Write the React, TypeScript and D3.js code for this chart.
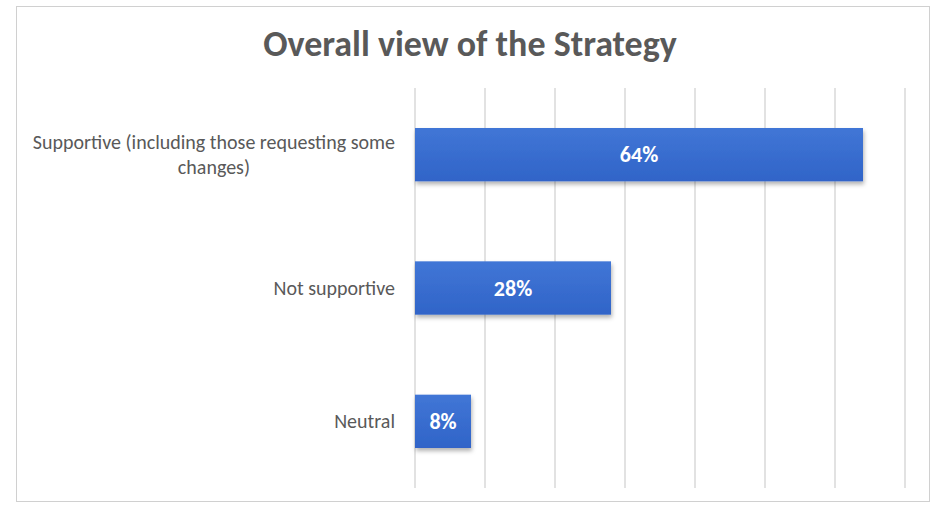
import { useEffect, useRef } from 'react';
import * as d3 from 'd3';

const categories = ['Supportive (including those requesting some changes)', 'Not supportive', 'Neutral'];
const labelLines = [['Supportive (including those requesting some', 'changes)'], ['Not supportive'], ['Neutral']];
const values = [0.64, 0.28, 0.08];
const gridTicks = [0, 0.1, 0.2, 0.3, 0.4, 0.5, 0.6, 0.7];

const W = 932;
const H = 505;

export default function App() {
  const svgRef = useRef<SVGSVGElement>(null);

  useEffect(() => {
    if (!svgRef.current) return;
    const svg = d3.select(svgRef.current);
    svg.selectAll('*').remove();

    const font = 'Carlito, Lato, "Open Sans", sans-serif';
    const plot = { left: 415, right: 905, top: 88, bottom: 488 };

    const x = d3.scaleLinear().domain([0, 0.7]).range([plot.left, plot.right]);
    const y = d3.scaleBand<string>()
      .domain(categories)
      .range([plot.top, plot.bottom])
      .paddingInner(0.6)
      .paddingOuter(0.3);

    const defs = svg.append('defs');
    const grad = defs.append('linearGradient')
      .attr('id', 'bar-grad')
      .attr('x1', 0).attr('y1', 0).attr('x2', 0).attr('y2', 1);
    grad.append('stop').attr('offset', '0%').attr('stop-color', '#4176d6');
    grad.append('stop').attr('offset', '100%').attr('stop-color', '#3064c8');

    const shadow = defs.append('filter').attr('id', 'bar-shadow')
      .attr('x', '-10%').attr('y', '-10%').attr('width', '130%').attr('height', '150%');
    shadow.append('feDropShadow')
      .attr('dx', 1).attr('dy', 3).attr('stdDeviation', 2)
      .attr('flood-color', '#000').attr('flood-opacity', 0.3);

    // chart border
    svg.append('rect')
      .attr('x', 16.5).attr('y', 6.5)
      .attr('width', 913).attr('height', 495)
      .attr('fill', '#fff')
      .attr('stroke', '#d0d0d0');

    // title
    svg.append('text')
      .attr('x', 470).attr('y', 56)
      .attr('text-anchor', 'middle')
      .attr('font-family', font)
      .attr('font-weight', 'bold')
      .attr('font-size', 36)
      .attr('fill', '#595959')
      .text('Overall view of the Strategy');

    // gridlines
    svg.append('g')
      .selectAll('line')
      .data(gridTicks)
      .join('line')
      .attr('x1', d => x(d)).attr('x2', d => x(d))
      .attr('y1', plot.top).attr('y2', plot.bottom)
      .attr('stroke', '#d9d9d9')
      .attr('stroke-width', 1.5);

    // bars
    svg.append('g')
      .selectAll('rect')
      .data(values)
      .join('rect')
      .attr('x', x(0))
      .attr('y', (_, i) => y(categories[i])!)
      .attr('width', d => x(d) - x(0))
      .attr('height', y.bandwidth())
      .attr('fill', 'url(#bar-grad)')
      .attr('filter', 'url(#bar-shadow)');

    // data labels
    svg.append('g')
      .selectAll('text')
      .data(values)
      .join('text')
      .attr('x', d => (x(0) + x(d)) / 2)
      .attr('y', (_, i) => y(categories[i])! + y.bandwidth() / 2)
      .attr('dy', '0.35em')
      .attr('text-anchor', 'middle')
      .attr('font-family', font)
      .attr('font-weight', 'bold')
      .attr('font-size', 22)
      .attr('fill', '#fff')
      .text(d => Math.round(d * 100) + '%');

    // category labels: block right-aligned at 395, lines centred on each other
    const lineH = 25;
    labelLines.forEach((lines, i) => {
      const cy = y(categories[i])! + y.bandwidth() / 2;
      const t = svg.append('text')
        .attr('font-family', font)
        .attr('font-size', 20)
        .attr('fill', '#595959')
        .attr('text-anchor', 'middle');
      lines.forEach((ln, j) => {
        t.append('tspan')
          .attr('x', 0)
          .attr('y', cy + (j - (lines.length - 1) / 2) * lineH)
          .attr('dy', '0.35em')
          .text(ln);
      });
      const w = (t.node() as SVGTextElement).getBBox().width;
      t.selectAll('tspan').attr('x', 395 - w / 2);
    });
  }, []);

  return (
    <svg ref={svgRef} width={W} height={H} style={{ position: 'absolute', left: 0, top: 0 }} />
  );
}
